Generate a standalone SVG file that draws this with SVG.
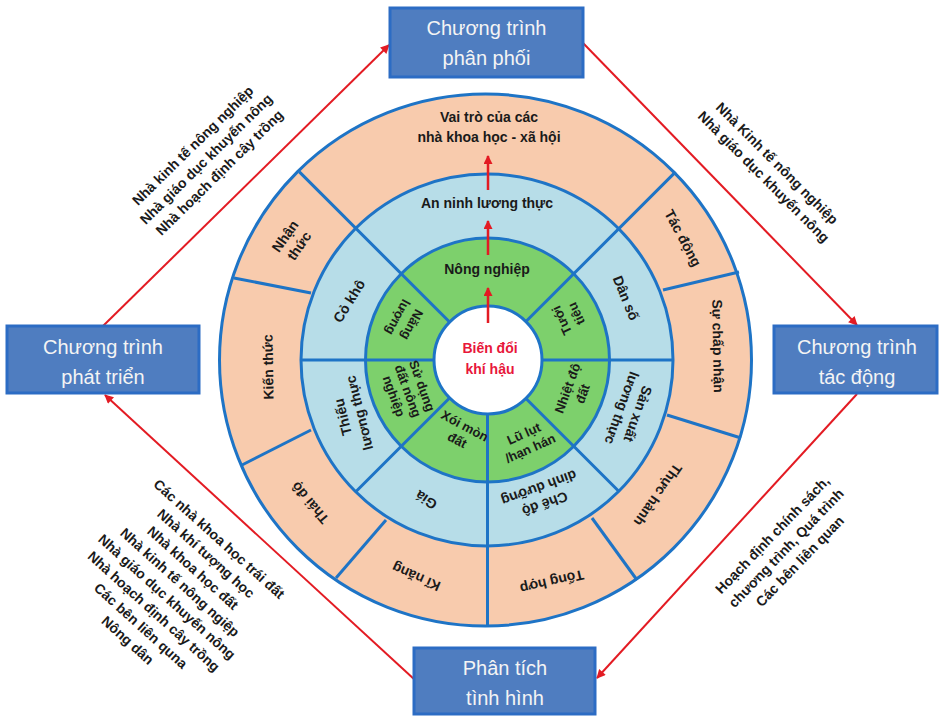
<svg xmlns="http://www.w3.org/2000/svg" width="939" height="716" viewBox="0 0 939 716">
<defs>
<marker id="ah" viewBox="0 0 10 10" refX="9" refY="5" markerWidth="11" markerHeight="9" markerUnits="userSpaceOnUse" orient="auto">
<path d="M0,0 L10,5 L0,10 z" fill="#E31B23"/>
</marker>
<style>
.ring{stroke:#1E74C6;stroke-width:3}
.div{stroke:#1E74C6;stroke-width:3;fill:none}
.lbl{font-family:"Liberation Sans",Arial,sans-serif;font-size:14px;font-weight:bold;fill:#1A1A1A;text-anchor:middle}
.sm{font-size:13px}
.side{font-family:"Liberation Sans",Arial,sans-serif;font-size:14px;font-weight:bold;fill:#1A1A1A;text-anchor:middle}
.box rect{fill:#4F7DC0;stroke:#2C6CC4;stroke-width:3}
.box text{font-family:"Liberation Sans",Arial,sans-serif;font-size:20px;fill:#F4F4F4;text-anchor:middle}
.conn{stroke:#E31B23;stroke-width:2;fill:none;marker-end:url(#ah)}
.up{stroke:#E31B23;stroke-width:2.5;fill:none;marker-end:url(#ah)}
.ctr{font-family:"Liberation Sans",Arial,sans-serif;font-size:14px;font-weight:bold;fill:#E8173A;text-anchor:middle}
</style>
</defs>
<rect width="939" height="716" fill="#FFFFFF"/>
<g id="rings">
<circle class="ring" cx="485.5" cy="360" r="266" fill="#F8CBAD"/>
<circle class="ring" cx="487" cy="360" r="186" fill="#B7DDE8"/>
<circle class="ring" cx="487.5" cy="360" r="122" fill="#7DD06C"/>
<circle class="ring" cx="488" cy="360" r="54" fill="#FFFFFF"/>
</g>
<g id="dividers">
<line class="div" x1="449.3" y1="321.8" x2="299.4" y2="171.9"/>
<line class="div" x1="525.7" y1="321.8" x2="675.6" y2="171.9"/>
<line class="div" x1="487.5" y1="414" x2="487.5" y2="626"/>
<line class="div" x1="541.5" y1="360" x2="673.5" y2="360"/>
<line class="div" x1="433.5" y1="360" x2="301" y2="360"/>
<line class="div" x1="449.3" y1="398.2" x2="356" y2="491.5"/>
<line class="div" x1="525.7" y1="398.2" x2="619" y2="491.5"/>
<line class="div" x1="311" y1="293" x2="234" y2="278"/>
<line class="div" x1="311" y1="430" x2="242" y2="465"/>
<line class="div" x1="386" y1="520" x2="336" y2="578"/>
<line class="div" x1="592" y1="518" x2="637" y2="580"/>
<line class="div" x1="667" y1="415" x2="741" y2="438"/>
<line class="div" x1="663" y1="290" x2="739" y2="272"/>
</g>
<g id="n-vai-tro"><text class="lbl" x="489" y="122">Vai trò của các</text><text class="lbl" x="489" y="142">nhà khoa học - xã hội</text></g>
<g id="n-nhan-thuc" transform="translate(292,241) rotate(-55)"><text class="lbl" y="-3.5">Nhận</text><text class="lbl" y="13.5">thức</text></g>
<g id="n-kien-thuc" transform="translate(268,367) rotate(-91)"><text class="lbl" y="5">Kiến thức</text></g>
<g id="n-thai-do" transform="translate(310,503) rotate(-130)"><text class="lbl" y="5">Thái độ</text></g>
<g id="n-ki-nang" transform="translate(416,577) rotate(-156)"><text class="lbl" y="5">Kĩ năng</text></g>
<g id="n-tong-hop" transform="translate(552,582) rotate(167)"><text class="lbl" y="5">Tổng hợp</text></g>
<g id="n-thuc-hanh" transform="translate(658,495) rotate(125)"><text class="lbl" y="5">Thực hành</text></g>
<g id="n-su-chap-nhan" transform="translate(718,346) rotate(89)"><text class="lbl" y="5">Sự chấp nhận</text></g>
<g id="n-tac-dong" transform="translate(683,238) rotate(62)"><text class="lbl" y="5">Tác động</text></g>
<g id="n-an-ninh"><text class="lbl" x="487" y="208">An ninh lương thực</text></g>
<g id="n-co-kho" transform="translate(349,301) rotate(-58)"><text class="lbl" y="5">Cỏ khô</text></g>
<g id="n-thieu-lt" transform="translate(351,415) rotate(-104)"><text class="lbl" y="-3.5">Thiếu</text><text class="lbl" y="13.5">lương thực</text></g>
<g id="n-gia" transform="translate(426,500) rotate(-146)"><text class="lbl" y="5">Giá</text></g>
<g id="n-che-do" transform="translate(542,496) rotate(160)"><text class="lbl" y="-3.5">Chế độ</text><text class="lbl" y="13.5">dinh dưỡng</text></g>
<g id="n-san-xuat" transform="translate(630,411) rotate(110)"><text class="lbl" y="-3.5">Sản xuất</text><text class="lbl" y="13.5">lương thực</text></g>
<g id="n-dan-so" transform="translate(626,298) rotate(68)"><text class="lbl" y="5">Dân số</text></g>
<g id="n-nong-nghiep"><text class="lbl" x="487" y="273.5">Nông nghiệp</text></g>
<g id="n-nang-luong" transform="translate(405,321) rotate(118)"><text class="lbl sm" y="-3.5">Năng</text><text class="lbl sm" y="12.5">lượng</text></g>
<g id="n-su-dung-dat" transform="translate(408,391) rotate(70)"><text class="lbl sm" y="-10.5">Sử dụng</text><text class="lbl sm" y="4.5">đất nông</text><text class="lbl sm" y="19.5">nghiệp</text></g>
<g id="n-xoi-mon" transform="translate(461,433) rotate(28)"><text class="lbl sm" y="-3.5">Xói mòn</text><text class="lbl sm" y="12.5">đất</text></g>
<g id="n-lu-lut" transform="translate(527,441) rotate(-24)"><text class="lbl sm" y="-3.5">Lũ lụt</text><text class="lbl sm" y="12.5">/hạn hán</text></g>
<g id="n-nhiet-do" transform="translate(575,391) rotate(-70)"><text class="lbl sm" y="-3.5">Nhiệt độ</text><text class="lbl sm" y="12.5">đất</text></g>
<g id="n-tuoi-tieu" transform="translate(569,317) rotate(-115)"><text class="lbl sm" y="-3.5">Tưới</text><text class="lbl sm" y="12.5">tiêu</text></g>
<g id="n-bien-doi"><text class="ctr" x="490" y="353">Biến đổi</text><text class="ctr" x="490" y="374">khí hậu</text></g>
<g id="n-side-ul" transform="translate(206,159) rotate(-44.5)"><text class="side" y="-14">Nhà kinh tế nông nghiệp</text><text class="side" y="5">Nhà giáo dục khuyến nông</text><text class="side" y="24">Nhà hoạch định cây trồng</text></g>
<g id="n-side-ur" transform="translate(770.5,170) rotate(45)"><text class="side" y="-4.5">Nhà Kinh tế nông nghiệp</text><text class="side" y="14.5">Nhà giáo dục khuyến nông</text></g>
<g id="n-side-lr" transform="translate(786,548) rotate(-46)"><text class="side" y="-14">Hoạch định chính sách,</text><text class="side" y="5">chương trình, Quá trình</text><text class="side" y="24">Các bên liên quan</text></g>
<g id="n-side-ll" transform="translate(173.5,589.5) rotate(42)">
<text class="side" y="-63.25">Các nhà khoa học trái đất</text>
<text class="side" y="-43.75">Nhà khí tượng học</text>
<text class="side" y="-24.25">Nhà khoa học đất</text>
<text class="side" y="-4.75">Nhà kinh tế nông ngiệp</text>
<text class="side" y="14.75">Nhà giáo dục khuyến nông</text>
<text class="side" y="34.25">Nhà hoạch định cây trồng</text>
<text class="side" y="53.75">Các bên liên quna</text>
<text class="side" y="73.25">Nông dân</text>
</g>
<g id="connectors">
<line class="up" x1="488" y1="323" x2="488" y2="288"/>
<line class="up" x1="488" y1="255" x2="488" y2="221"/>
<line class="up" x1="488" y1="190" x2="488" y2="156"/>
<line class="conn" x1="103" y1="326" x2="389" y2="45"/>
<line class="conn" x1="583" y1="43" x2="857" y2="325"/>
<line class="conn" x1="857" y1="394" x2="597" y2="678"/>
<line class="conn" x1="415" y1="680" x2="105" y2="395"/>
</g>
<g id="n-phan-phoi" class="box"><rect x="390" y="8" width="193" height="69"/><text x="486.5" y="35">Chương trình</text><text x="486.5" y="65">phân phối</text></g>
<g id="n-phat-trien" class="box"><rect x="7" y="326" width="192" height="67"/><text x="103" y="354">Chương trình</text><text x="103" y="384">phát triển</text></g>
<g id="n-tac-dong-box" class="box"><rect x="774" y="326" width="163" height="67"/><text x="857" y="354">Chương trình</text><text x="857" y="384">tác động</text></g>
<g id="n-phan-tich" class="box"><rect x="414" y="648" width="181" height="66"/><text x="505" y="675">Phân tích</text><text x="505" y="705">tình hình</text></g>
</svg>
